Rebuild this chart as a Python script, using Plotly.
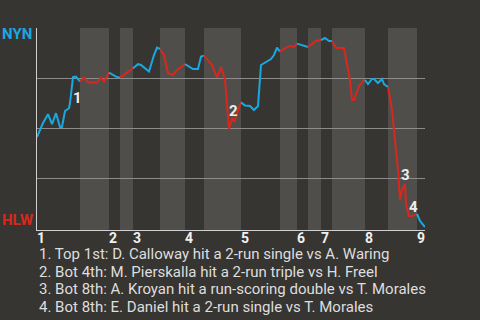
import plotly.graph_objects as go

# game progress (x) and NYN win probability (y)
progress = [0, 4, 6, 11, 15, 19, 23, 25, 28, 32, 33, 36, 39, 43,
            47, 51, 60, 64, 67, 72,
            79, 83,
            93, 96,
            101, 104, 112, 117, 120, 123,
            127, 131, 136, 140, 148,
            156, 161, 164, 167,
            175, 180, 184, 188, 190, 192, 195, 197, 204,
            208, 213, 217, 221, 224, 234, 237, 240, 243,
            248, 253, 257, 260,
            268, 271,
            279, 284,
            288, 292, 295,
            299, 307, 313, 315, 317, 322, 327, 328,
            331, 335, 337, 341, 345, 347, 351,
            355, 357, 361, 363, 365, 368, 369, 372, 375, 380,
            383, 388]
win_prob = [0.455, 0.507, 0.525, 0.569, 0.519, 0.574, 0.505, 0.505, 0.585, 0.599, 0.625, 0.754, 0.757, 0.732,
            0.752, 0.727, 0.727, 0.752, 0.732, 0.777,
            0.757, 0.752,
            0.79, 0.799,
            0.819, 0.815, 0.782, 0.865, 0.902, 0.895,
            0.865, 0.774, 0.765, 0.79, 0.819,
            0.795, 0.795, 0.857, 0.862,
            0.815, 0.752, 0.805, 0.74, 0.624, 0.495, 0.55, 0.53, 0.628,
            0.612, 0.61, 0.59, 0.61, 0.815, 0.845, 0.865, 0.902, 0.882,
            0.899, 0.91, 0.905, 0.922,
            0.91, 0.905,
            0.935, 0.94,
            0.95, 0.935, 0.935,
            0.9, 0.9, 0.74, 0.64, 0.64, 0.71, 0.74, 0.74,
            0.72, 0.745, 0.745, 0.725, 0.745, 0.72, 0.705,
            0.59, 0.49, 0.29, 0.14, 0.19, 0.22, 0.12, 0.06, 0.06, 0.07,
            0.035, 0.005]

# half-inning boundaries (game progress)
half_starts = [0, 43, 72, 83, 96, 123, 148, 167, 204, 243, 260, 271, 284, 295, 328, 351, 380]
game_end = 388
inning_labels = ["1", "2", "3", "4", "5", "6", "7", "8", "9"]

# key events: progress, win prob where the number sits
event_ids = ["1", "2", "3", "4"]
event_x = [40, 196, 368, 376]
event_y = [0.65, 0.585, 0.265, 0.105]
event_text = [
    "1. Top 1st: D. Calloway hit a 2-run single vs A. Waring",
    "2. Bot 4th: M. Pierskalla hit a 2-run triple vs H. Freel",
    "3. Bot 8th: A. Kroyan hit a run-scoring double vs T. Morales",
    "4. Bot 8th: E. Daniel hit a 2-run single vs T. Morales",
]

BG = "#373532"
BAND = "#504e4b"
BLUE = "#19a8e0"
RED = "#d8281d"
FONT = "Roboto"
PLOT_H = 202

fig = go.Figure()

bounds = half_starts + [game_end]
for i in range(len(half_starts)):
    x0, x1 = bounds[i], bounds[i + 1]
    idx = [k for k, x in enumerate(progress) if x0 <= x <= x1]
    if idx and idx[0] > 0 and progress[idx[0]] > x0:
        idx = [idx[0] - 1] + idx
    xs = [progress[k] for k in idx]
    ys = [win_prob[k] for k in idx]
    fig.add_trace(go.Scatter(x=xs, y=ys, mode="lines",
                             line=dict(color=BLUE if i % 2 == 0 else RED, width=2),
                             hoverinfo="skip", showlegend=False))
    if i % 2 == 1:
        fig.add_shape(type="rect", xref="x", yref="paper", x0=x0, x1=x1, y0=0, y1=1,
                      fillcolor=BAND, line=dict(width=0), layer="below")

annotations = []
for lab, ex, ey in zip(event_ids, event_x, event_y):
    annotations.append(dict(x=ex, y=ey, xref="x", yref="y", text=lab, showarrow=False,
                            font=dict(family=FONT, size=15, color="#eeeeee", weight="bold")))
# inning labels
for lab, tx in zip(inning_labels, half_starts[0::2]):
    annotations.append(dict(x=tx, y=-8 / PLOT_H, xref="x", yref="paper", xanchor="left",
                            yanchor="middle", xshift=-2, text=lab, showarrow=False,
                            font=dict(family=FONT, size=14, color="#f0f0f0", weight="bold")))
for j, t in enumerate(event_text):
    annotations.append(dict(x=0, y=-(24 + 17.7 * j) / PLOT_H, xref="paper", yref="paper",
                            xanchor="left", yanchor="middle", text=t, showarrow=False,
                            font=dict(family=FONT, size=15, color="#dedede")))
annotations.append(dict(x=-37 / 388, y=1 - 6 / PLOT_H, xref="paper", yref="paper", xanchor="left",
                        yanchor="middle", text="NYN", showarrow=False,
                        font=dict(family=FONT, size=15, color=BLUE, weight="bold")))
annotations.append(dict(x=-37 / 388, y=10 / PLOT_H, xref="paper", yref="paper", xanchor="left",
                        yanchor="middle", text="HLW", showarrow=False,
                        font=dict(family=FONT, size=15, color=RED, weight="bold")))

fig.update_layout(
    width=480, height=320,
    margin=dict(l=37, r=55, t=28, b=90),
    paper_bgcolor=BG, plot_bgcolor=BG,
    annotations=annotations,
    xaxis=dict(range=[0, game_end], showticklabels=False,
               showgrid=False, zeroline=False, showline=True, linecolor="#d0d0d0", linewidth=1,
               ticks="", fixedrange=True),
    yaxis=dict(range=[-0.01, 1.0], tickvals=[0.25, 0.5, 0.75, 1.0], showticklabels=False,
               showgrid=True, gridcolor="#8c8c8c", gridwidth=1, zeroline=False,
               showline=True, linecolor="#d0d0d0", linewidth=1, ticks="", fixedrange=True),
)

fig.write_html("out.html", config={"displayModeBar": False})
